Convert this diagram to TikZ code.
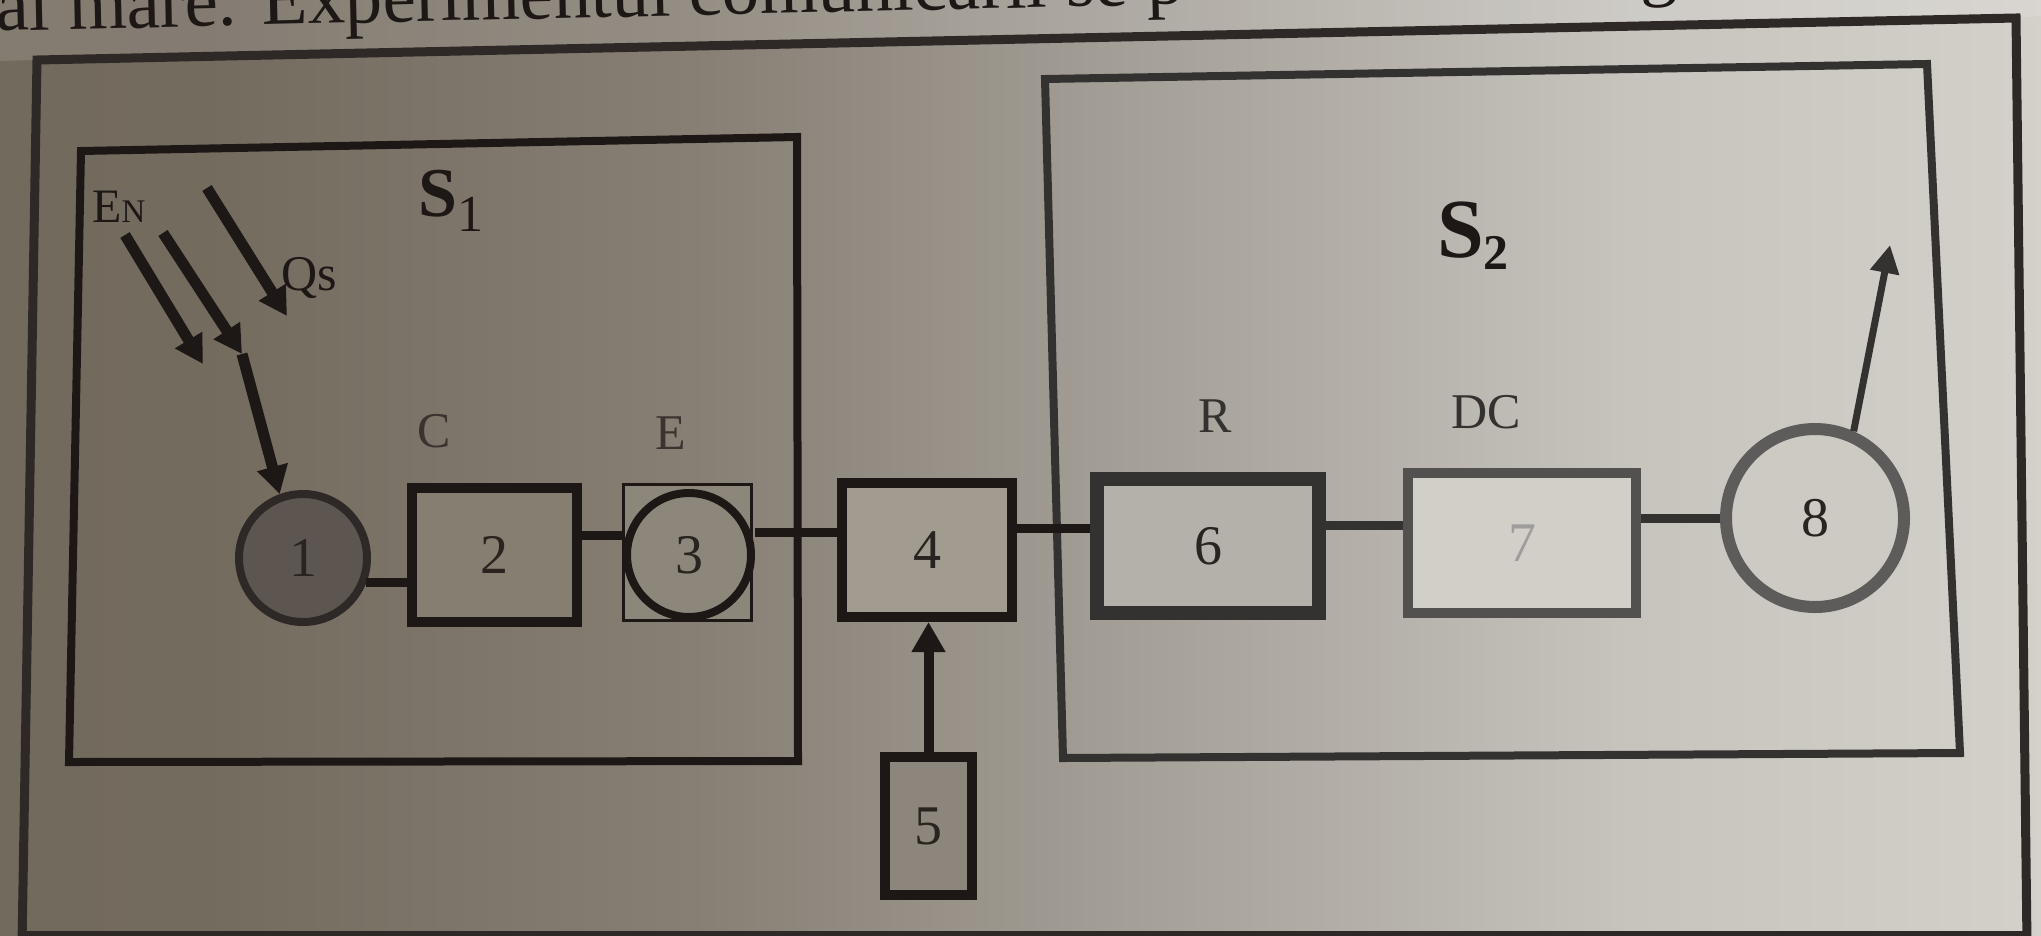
\documentclass[tikz,border=0pt]{standalone}
\usepackage{fontspec}
\setmainfont{Liberation Serif}
\usetikzlibrary{arrows.meta}
\definecolor{bg0}{HTML}{6E6558}
\definecolor{bg1}{HTML}{746B5F}
\definecolor{bg2}{HTML}{877F74}
\definecolor{bg3}{HTML}{A29D95}
\definecolor{bg4}{HTML}{C7C4BE}
\definecolor{bg5}{HTML}{DAD7D1}
\definecolor{bg6}{HTML}{D6D2CB}
\definecolor{inkc}{HTML}{1D1816}
\definecolor{inkr}{HTML}{343231}
\definecolor{framec}{HTML}{2E2926}
\definecolor{digc}{HTML}{2A2420}
\definecolor{labc}{HTML}{3A3430}
\definecolor{f1}{HTML}{5D5650}
\definecolor{f2}{HTML}{877E72}
\definecolor{f3}{HTML}{8D867B}
\definecolor{f4}{HTML}{A29B90}
\definecolor{f5}{HTML}{8D867C}
\definecolor{f6}{HTML}{B4B0AA}
\definecolor{f7}{HTML}{D2CFC9}
\definecolor{f8}{HTML}{CDC9C3}
\definecolor{b8}{HTML}{5E5C5A}
\pgfdeclarehorizontalshading{paper}{100bp}{color(0bp)=(bg0); color(30bp)=(bg1); color(42bp)=(bg2); color(52bp)=(bg3); color(65bp)=(bg4); color(80bp)=(bg5); color(100bp)=(bg6)}
\tikzset{
  box/.style={draw=inkc, line width=10pt, rectangle, inner sep=0pt,
    font=\fontsize{56}{60}\selectfont, text=digc},
  rnd/.style={draw=inkc, line width=8pt, circle, inner sep=0pt,
    font=\fontsize{56}{60}\selectfont, text=digc},
  conn/.style={draw=inkc, line width=9pt},
  lab/.style={font=\fontsize{50}{55}\selectfont, text=labc, inner sep=0pt},
  arr/.style={draw=inkc, line width=11pt, -{Triangle[length=28pt,width=30pt]}},
  thinarr/.style={draw=inkr, line width=7pt, -{Triangle[length=28pt,width=28pt]}},
  bigbox/.style={line width=8pt, line join=miter},
}
\begin{document}
\begin{tikzpicture}[x=1pt,y=-1pt]
\useasboundingbox (0,0) rectangle (2041,935);
\clip (0,0) rectangle (2041,935);
% paper
\shade[shading=paper] (0,0) rectangle (2041,935);
\fill[white, opacity=0.12] (0,0) -- (2041,0) -- (2041,16) -- (2016,18) -- (37,60) -- (0,61) -- cycle;
% text line of the page, cut by the photo
\node[anchor=base west, rotate=1.3, font=\fontsize{75}{80}\selectfont, text=inkc, inner sep=0pt] (ttl) at (-4,31) {al mare. Experimentul comunicarii se p};
\node[anchor=base west, rotate=1.3, font=\fontsize{75}{80}\selectfont, text=inkc, inner sep=0pt] (ttg) at (1640,-7) {g};
% outer frame
\draw[framec, line width=9pt, line join=miter] (22,945) -- (37,60) -- (2016,18) -- (2027,945);
\draw[framec, line width=6pt] (22,934) -- (2027,934);
% systems
\draw[bigbox, draw=inkc] (81,151) -- (797,137) -- (798,761) -- (69,762) -- cycle;
\draw[bigbox, draw=inkr] (1045,79) -- (1927,64) -- (1960,753) -- (1063,758) -- cycle;
% labels
\node[lab, anchor=base west, text=inkc] (lS1) at (418,216) {\fontsize{70}{70}\selectfont\bfseries S\raisebox{-15pt}{\fontsize{52}{52}\selectfont\mdseries 1}};
\node[lab, anchor=base west, text=inkc] (lS2) at (1437,257) {\fontsize{84}{84}\selectfont\bfseries S\raisebox{-12pt}{\fontsize{50}{50}\selectfont 2}};
\node[lab, anchor=base west, text=inkc] (lEN) at (92,222) {\fontsize{48}{48}\selectfont E{\fontsize{33}{33}\selectfont N}};
\node[lab, anchor=base west, text=inkc] (lQs) at (281,290) {Qs};
\node[lab, anchor=base] (lC) at (434,447) {C};
\node[lab, anchor=base] (lE) at (671,449) {E};
\node[lab, anchor=base, text=inkr] (lR) at (1215,432) {R};
\node[lab, anchor=base, text=inkr] (lDC) at (1486,428) {DC};
% elements
\node[rnd, draw=framec, fill=f1, minimum size=128pt] (n1) at (303,558) {1};
\node[box, fill=f2, minimum width=165pt, minimum height=134pt] (n2) at (494.5,555) {2};
\draw[draw=inkc, line width=3pt, fill=f3] (623.5,484.5) rectangle (751.5,620.5);
\node[rnd, fill=f3, minimum size=124pt] (n3) at (689,555) {3};
\node[box, fill=f4, minimum width=170pt, minimum height=134pt] (n4) at (927,550) {4};
\node[box, fill=f5, minimum width=87pt, minimum height=138pt] (n5) at (928.5,826) {5};
\node[box, draw=inkr, line width=14pt, fill=f6, minimum width=222pt, minimum height=134pt] (n6) at (1208,546) {6};
\node[box, draw=inkr!85!white, fill=f7, text=digc!45!white, minimum width=228pt, minimum height=140pt] (n7) at (1522,543) {7};
\node[rnd, draw=b8, line width=12pt, fill=f8, minimum size=178pt] (n8) at (1815,518) {8};
% connectors
\draw[conn] (n1.-21) -- (n1.-21 -| n2.west);
\draw[conn] ([yshift=20pt]n2.east) -- ([yshift=20pt]n2.east -| n3.west);
\draw[conn] ([yshift=23pt]n3.east) -- ([yshift=23pt]n3.east -| n4.west);
\draw[conn] ([yshift=22pt]n4.east) -- ([yshift=22pt]n4.east -| n6.west);
\draw[conn, draw=inkr] ([yshift=21pt]n6.east) -- ([yshift=21pt]n6.east -| n7.west);
\draw[conn, draw=inkr] (n7.east |- n8.west) -- (n8.west);
% inputs and output
\draw[arr, line width=10pt, -{Triangle[length=30pt,width=32pt]}] (n5.north) -- (n5.north |- n4.south);
\coordinate (a1s) at (125,235);
\coordinate (a1e) at (203,364);
\coordinate (a2s) at (163,233);
\coordinate (a2e) at (242,354);
\coordinate (qs) at (207,188);
\coordinate (qe) at (287,316);
\coordinate (o8) at (1890,245);
\draw[arr] (a1s) -- (a1e);
\draw[arr] (a2s) -- (a2e);
\draw[arr] (a2e) -- (n1.110);
\draw[arr] (qs) -- (qe);
\draw[thinarr] (n8.66) -- (o8);
\end{tikzpicture}
\end{document}
